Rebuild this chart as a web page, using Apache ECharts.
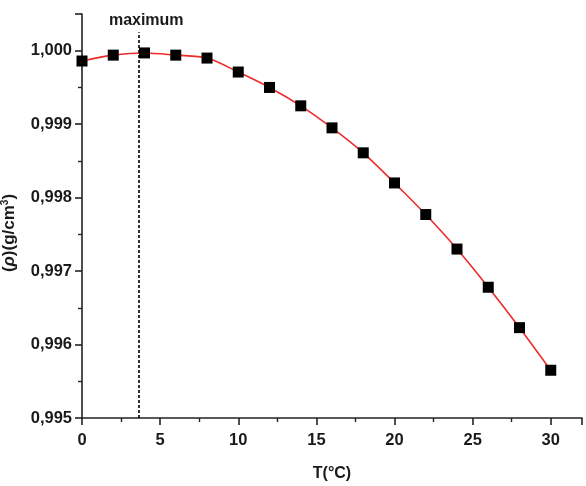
<!DOCTYPE html>
<html><head><meta charset="utf-8">
<script src="https://cdn.jsdelivr.net/npm/echarts@6/dist/echarts.min.js"></script>
<style>html,body{margin:0;padding:0;background:#fff}#c{width:586px;height:486px}</style>
</head><body><div id="c"></div>
<script>
const temperatures = [0, 2, 4, 6, 8, 10, 12, 14, 16, 18, 20, 22, 24, 26, 28, 30];
const densities = [0.99986, 0.99994, 0.99997, 0.99994, 0.99990, 0.99971, 0.99950, 0.99925, 0.99895, 0.99861, 0.99820, 0.99777, 0.99730, 0.99678, 0.99623, 0.99565];
const maxTemp = 3.6;
const maxLabel = 'maximum';
const xTitle = 'T(°C)';

const FONT = '"Liberation Sans", Arial, sans-serif';
const chart = echarts.init(document.getElementById('c'));
const pts = temperatures.map((t, i) => [t, densities[i]]);
chart.setOption({
  animation: false,
  grid: {left: 82, right: 4, top: 14, bottom: 68, containLabel: false, outerBoundsMode: 'none'},
  xAxis: {
    type: 'value', min: 0, max: 32, interval: 5,
    name: xTitle, nameLocation: 'middle', nameGap: 48,
    nameTextStyle: {fontFamily: FONT, fontWeight: 'bold', fontSize: 16, color: '#1a1a1a'},
    axisLine: {lineStyle: {color: '#222', width: 1.6}},
    axisTick: {inside: false, length: 7, lineStyle: {color: '#222', width: 1.6}},
    minorTick: {show: true, splitNumber: 2, length: 4, lineStyle: {color: '#222', width: 1.4}},
    splitLine: {show: false},
    axisLabel: {showMaxLabel: false, margin: 14, fontFamily: FONT, fontWeight: 'bold', fontSize: 16.5, color: '#1a1a1a'}
  },
  yAxis: {
    type: 'value', min: 0.995, max: 1.0005, interval: 0.001,
    name: '{p|(}{i|ρ}{p|)(g/cm}{s|3}{p|)}', nameLocation: 'middle', nameGap: 64, nameRotate: 90,
    nameTextStyle: {padding: [0, 34, 0, 0], rich: {
      p: {fontFamily: FONT, fontWeight: 'bold', fontSize: 17, color: '#1a1a1a'},
      i: {fontFamily: FONT, fontWeight: 'bold', fontStyle: 'italic', fontSize: 17, color: '#1a1a1a'},
      s: {fontFamily: FONT, fontWeight: 'bold', fontSize: 10, color: '#1a1a1a', verticalAlign: 'top', padding: [0, 0, 8, 0]}
    }},
    axisLine: {show: true, lineStyle: {color: '#222', width: 1.6}},
    axisTick: {show: true, inside: false, length: 7, lineStyle: {color: '#222', width: 1.6}},
    minorTick: {show: true, splitNumber: 2, length: 4, lineStyle: {color: '#222', width: 1.4}},
    splitLine: {show: false},
    axisLabel: {showMaxLabel: false, margin: 10, fontFamily: FONT, fontWeight: 'bold', fontSize: 16.5, color: '#1a1a1a',
      formatter: v => v.toFixed(3).replace('.', ',')}
  },
  series: [{
    type: 'line', data: pts, smooth: 0.3, clip: false,
    symbol: 'rect', symbolSize: 11,
    itemStyle: {color: '#000'},
    lineStyle: {color: '#ee2a2a', width: 1.6},
    z: 3,
    markLine: {
      silent: true, symbol: 'none', animation: false,
      lineStyle: {color: '#000', type: [3, 2], width: 1.6},
      label: {show: true, position: 'end', formatter: maxLabel, distance: 4, padding: [0, 0, 0, 16],
        fontFamily: FONT, fontWeight: 'bold', fontSize: 16, color: '#1a1a1a'},
      data: [[{coord: [maxTemp, 0.995]}, {coord: [maxTemp, 1.00025]}]]
    }
  }]
});
</script></body></html>
